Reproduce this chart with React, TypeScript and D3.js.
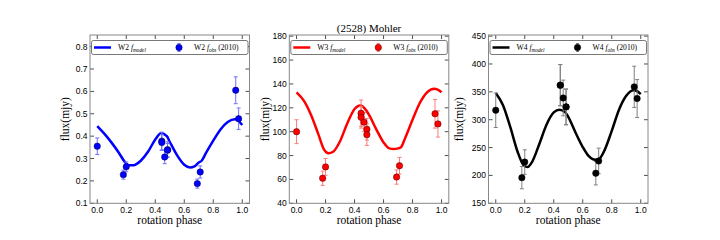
import React from "react";
import * as d3 from "d3";

const phases = [0, 0.18, 0.2, 0.445, 0.445, 0.465, 0.485, 0.485, 0.69, 0.71, 0.955, 0.975];

const w2Obs = [0.355, 0.228, 0.263, 0.378, 0.372, 0.307, 0.340, 0.337, 0.188, 0.240, 0.605, 0.478];
const w2Err = [0.037, 0.02, 0.022, 0.04, 0.035, 0.03, 0.035, 0.03, 0.02, 0.027, 0.06, 0.048];
const w3Obs = [100, 61, 70.5, 115.5, 112, 108, 102, 97.5, 62, 71.5, 115, 106.5];
const w3Err = [10, 6, 7, 11, 9, 8, 9, 9, 6, 7, 12, 11];
const w4Obs = [317, 196, 224, 362, 362, 339, 323, 323, 204, 226, 359, 338];
const w4Err = [31, 20, 22, 37, 37, 32, 32, 32, 21, 23, 37, 34];

const modelPhase = [0, 0.05, 0.1, 0.15, 0.19, 0.22, 0.25, 0.3, 0.35, 0.4, 0.44, 0.48, 0.5, 0.55, 0.6, 0.64, 0.67, 0.7, 0.72, 0.75, 0.8, 0.85, 0.9, 0.95, 0.97, 1.0];
const w2Model = [0.445, 0.41, 0.37, 0.325, 0.285, 0.27, 0.27, 0.29, 0.33, 0.385, 0.413, 0.40, 0.375, 0.315, 0.272, 0.26, 0.265, 0.282, 0.29, 0.325, 0.38, 0.43, 0.463, 0.475, 0.47, 0.45];
const w3Model = [133, 126, 114, 98, 85, 82, 83, 92, 107, 119, 122, 118, 114, 102, 91, 86, 85.5, 86, 87, 95, 110, 124, 133, 136, 135.5, 133];
const w4Model = [348, 326, 287, 243, 219, 215, 224, 256, 291, 313, 318, 313, 305, 277, 251, 235, 229, 228, 231, 245, 280, 318, 343, 353, 352, 346];

const w2Ticks = [0.1, 0.2, 0.3, 0.4, 0.5, 0.6, 0.7, 0.8];
const w3Ticks = [40, 60, 80, 100, 120, 140, 160, 180];
const w4Ticks = [150, 200, 250, 300, 350, 400, 450];
const xTicks = [0, 0.2, 0.4, 0.6, 0.8, 1.0];

const panels = [
  { band: "W2", obs: w2Obs, err: w2Err, model: w2Model, ticks: w2Ticks, dom: [0.1, 0.852], fmt: (v: number) => v.toFixed(1), color: "#0000ff", errColor: "#7070ff", edge: "#00004a", left: 90, ylabX: 65 },
  { band: "W3", obs: w3Obs, err: w3Err, model: w3Model, ticks: w3Ticks, dom: [40, 181], fmt: (v: number) => String(v), color: "#ff0000", errColor: "#ff7a7a", edge: "#4a0000", left: 289.3, ylabX: 265 },
  { band: "W4", obs: w4Obs, err: w4Err, model: w4Model, ticks: w4Ticks, dom: [150, 452], fmt: (v: number) => String(v), color: "#000000", errColor: "#808080", edge: "#000000", left: 488.5, ylabX: 459 },
];

const TOP = 35;
const BOTTOM = 203.3;
const WIDTH = 159.5;
const serif = "'Liberation Serif', 'Times New Roman', serif";
const sans = "'Liberation Sans', Arial, sans-serif";

function Panel({ p }: { p: (typeof panels)[number] }) {
  const x = d3.scaleLinear().domain([-0.05, 1.05]).range([p.left, p.left + WIDTH]);
  const y = d3.scaleLinear().domain(p.dom).range([BOTTOM, TOP]);
  const line = d3
    .line<number>()
    .x((_, i) => x(modelPhase[i]))
    .y((d) => y(d))
    .curve(d3.curveMonotoneX);
  const L = p.left;
  const R = p.left + WIDTH;
  const ly = 47.5;
  return (
    <g>
      {xTicks.map((t) => (
        <g key={"x" + t}>
          <line x1={x(t)} x2={x(t)} y1={BOTTOM} y2={BOTTOM - 4} stroke="#000" strokeWidth={0.7} />
          <line x1={x(t)} x2={x(t)} y1={TOP} y2={TOP + 4} stroke="#000" strokeWidth={0.7} />
          <text x={x(t)} y={212.5} textAnchor="middle" fontFamily={sans} fontSize={8.5} fill="#000">
            {t.toFixed(1)}
          </text>
        </g>
      ))}
      {p.ticks.map((t) => (
        <g key={"y" + t}>
          <line x1={L} x2={L + 4} y1={y(t)} y2={y(t)} stroke="#000" strokeWidth={0.7} />
          <line x1={R} x2={R - 4} y1={y(t)} y2={y(t)} stroke="#000" strokeWidth={0.7} />
          <text x={L - 2.5} y={y(t) + 3} textAnchor="end" fontFamily={sans} fontSize={8.5} fill="#000">
            {p.fmt(t)}
          </text>
        </g>
      ))}
      <path d={line(p.model) || ""} fill="none" stroke={p.color} strokeWidth={2.5} strokeLinejoin="round" />
      {phases.map((ph, i) => {
        const cx = x(ph);
        const y1 = y(p.obs[i] - p.err[i]);
        const y2 = y(p.obs[i] + p.err[i]);
        return (
          <g key={"o" + i}>
            <line x1={cx} x2={cx} y1={y1} y2={y2} stroke={p.errColor} strokeWidth={1} />
            <line x1={cx - 2} x2={cx + 2} y1={y1} y2={y1} stroke={p.errColor} strokeWidth={1} />
            <line x1={cx - 2} x2={cx + 2} y1={y2} y2={y2} stroke={p.errColor} strokeWidth={1} />
          </g>
        );
      })}
      {phases.map((ph, i) => (
        <circle key={"c" + i} cx={x(ph)} cy={y(p.obs[i])} r={3.2} fill={p.color} stroke={p.edge} strokeWidth={0.5} />
      ))}
      <rect x={L} y={TOP} width={WIDTH} height={BOTTOM - TOP} fill="none" stroke="#888" strokeWidth={1} />
      <rect x={L + 1.5} y={40.5} width={WIDTH - 3} height={14} rx={2} fill="#fff" stroke="#555" strokeWidth={0.8} />
      <line x1={L + 4} x2={L + 21} y1={ly} y2={ly} stroke={p.color} strokeWidth={2.5} />
      <text x={L + 28} y={ly + 2.6} fontFamily={serif} fontSize={7.6} fill="#000">
        {p.band + " "}
        <tspan fontStyle="italic">f</tspan>
        <tspan fontStyle="italic" fontSize={5.3} dy={1.5}>model</tspan>
      </text>
      <line x1={L + 89} x2={L + 89} y1={ly - 4} y2={ly + 4} stroke={p.errColor} strokeWidth={1} />
      <line x1={L + 87.5} x2={L + 90.5} y1={ly - 4} y2={ly - 4} stroke={p.errColor} strokeWidth={1} />
      <line x1={L + 87.5} x2={L + 90.5} y1={ly + 4} y2={ly + 4} stroke={p.errColor} strokeWidth={1} />
      <circle cx={L + 89} cy={ly} r={3.2} fill={p.color} stroke={p.edge} strokeWidth={0.5} />
      <text x={L + 104} y={ly + 2.6} fontFamily={serif} fontSize={7.6} fill="#000">
        {p.band + " "}
        <tspan fontStyle="italic">f</tspan>
        <tspan fontStyle="italic" fontSize={5.3} dy={1.5}>obs</tspan>
        <tspan dy={-1.5}>{" (2010)"}</tspan>
      </text>
      <text x={L + WIDTH / 2} y={223.5} textAnchor="middle" fontFamily={serif} fontSize={11.5} fill="#000">
        rotation phase
      </text>
      <text
        transform={`translate(${p.ylabX},${(TOP + BOTTOM) / 2}) rotate(-90)`}
        textAnchor="middle"
        dy={4}
        fontFamily={serif}
        fontSize={11.5}
        fill="#000"
      >
        flux(mjy)
      </text>
    </g>
  );
}

export default function App() {
  return (
    <svg width={720} height={240} style={{ position: "absolute", left: 0, top: 0, background: "#fff" }}>
      <rect x={0} y={0} width={720} height={240} fill="#fff" />
      {panels.map((p) => (
        <Panel key={p.band} p={p} />
      ))}
      <text x={289.3 + WIDTH / 2} y={31.5} textAnchor="middle" fontFamily={serif} fontSize={11} fill="#000">
        (2528) Mohler
      </text>
    </svg>
  );
}
